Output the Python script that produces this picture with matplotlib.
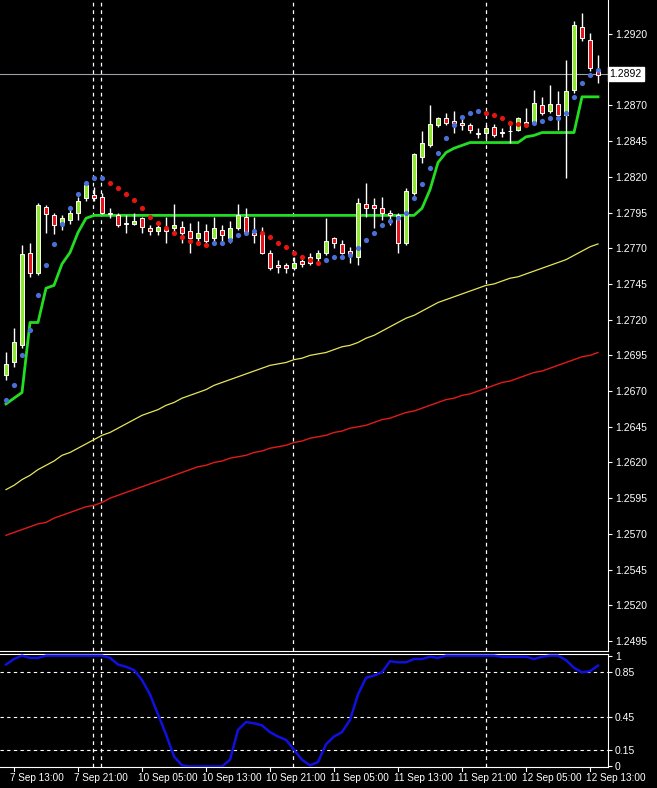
import matplotlib
matplotlib.use("Agg")
import matplotlib.pyplot as plt
import numpy as np
from matplotlib.lines import Line2D

plt.rcParams['font.family'] = ['Liberation Sans', 'DejaVu Sans']

opens = [1.2681,1.2690,1.2702,1.2767,1.2753,1.2799,1.2793,1.2788,1.2790,1.2795,
         1.2805,1.2807,1.2806,1.2795,1.2793,1.2787,1.2787,1.2791,1.2784,1.2782,
         1.2784,1.2784,1.2785,1.2782,1.2777,1.2782,1.2777,1.2783,1.2777,1.2784,
         1.2792,1.2781,1.2780,1.2767,1.2758,1.2758,1.2756,1.2761,1.2760,1.2763,
         1.2767,1.2777,1.2773,1.2768,1.2764,1.2801,1.2800,1.2798,1.2795,1.2793,
         1.2774,1.2809,1.2834,1.2842,1.2856,1.2861,1.2859,1.2858,1.2856,1.2851,
         1.2851,1.2855,1.2851,1.2852,1.2853,1.2858,1.2858,1.2870,1.2866,1.2871,
         1.2863,1.2881,1.2925,1.2916,1.2895]
highs = [1.2697,1.2714,1.2772,1.2774,1.2802,1.2800,1.2795,1.2793,1.2799,1.2806,
         1.2816,1.2813,1.2809,1.2798,1.2795,1.2793,1.2795,1.2792,1.2786,1.2787,
         1.2792,1.2801,1.2789,1.2788,1.2789,1.2787,1.2792,1.2786,1.2789,1.2801,
         1.2798,1.2792,1.2785,1.2769,1.2762,1.2760,1.2764,1.2764,1.2767,1.2769,
         1.2791,1.2778,1.2776,1.2771,1.2805,1.2816,1.2805,1.2806,1.2797,1.2795,
         1.2812,1.2837,1.2852,1.2870,1.2862,1.2865,1.2866,1.2861,1.2858,1.2854,
         1.2856,1.2857,1.2854,1.2857,1.2862,1.2868,1.2881,1.2876,1.2884,1.2880,
         1.2902,1.2929,1.2935,1.2921,1.2905]
lows = [1.2678,1.2687,1.2700,1.2750,1.2751,1.2781,1.2780,1.2783,1.2787,1.2790,
        1.2803,1.2803,1.2794,1.2791,1.2785,1.2781,1.2786,1.2781,1.2779,1.2779,
        1.2774,1.2781,1.2774,1.2767,1.2772,1.2772,1.2774,1.2774,1.2774,1.2783,
        1.2780,1.2774,1.2766,1.2755,1.2753,1.2753,1.2755,1.2757,1.2758,1.2760,
        1.2765,1.2770,1.2766,1.2760,1.2758,1.2792,1.2784,1.2790,1.2786,1.2767,
        1.2772,1.2807,1.2830,1.2841,1.2855,1.2856,1.2851,1.2853,1.2851,1.2847,
        1.2847,1.2848,1.2848,1.2844,1.2852,1.2855,1.2857,1.2863,1.2865,1.2853,
        1.2819,1.2879,1.2915,1.2894,1.2886]
closes = [1.2689,1.2704,1.2766,1.2753,1.2800,1.2794,1.2786,1.2791,1.2795,1.2803,
          1.2814,1.2805,1.2795,1.2794,1.2786,1.2788,1.2789,1.2785,1.2782,1.2785,
          1.2782,1.2786,1.2781,1.2777,1.2781,1.2775,1.2784,1.2779,1.2784,1.2793,
          1.2781,1.2779,1.2767,1.2756,1.2757,1.2756,1.2760,1.2759,1.2764,1.2767,
          1.2775,1.2774,1.2767,1.2765,1.2802,1.2798,1.2798,1.2795,1.2793,1.2774,
          1.2810,1.2836,1.2844,1.2857,1.2861,1.2858,1.2858,1.2856,1.2853,1.2850,
          1.2854,1.2849,1.2851,1.2852,1.2861,1.2858,1.2872,1.2865,1.2871,1.2863,
          1.2880,1.2926,1.2917,1.2896,1.2891]

sar = [1.2664,1.2674,1.2695,1.2713,1.2737,1.2758,1.2773,1.2787,1.2798,1.2808,
       1.2816,1.2819,1.2819,1.2816,1.2812,1.2808,1.2804,1.2798,1.2792,1.2788,
       1.2784,1.2781,1.2778,1.2775,1.2774,1.2772,1.2774,1.2774,1.2776,1.2779,
       1.2781,1.2782,1.2781,1.2778,1.2774,1.2771,1.2767,1.2764,1.2762,1.2760,
       1.2762,1.2764,1.2764,1.2765,1.2770,1.2776,1.2781,1.2786,1.2789,1.2791,
       1.2795,1.2805,1.2815,1.2826,1.2837,1.2847,1.2856,1.2862,1.2865,1.2866,
       1.2865,1.2863,1.2861,1.2858,1.2857,1.2856,1.2858,1.2859,1.2861,1.2861,
       1.2865,1.2876,1.2886,1.2891,1.2895]
sar_up = [1]*13 + [0]*13 + [1]*6 + [0]*8 + [1]*20 + [0]*6 + [1]*9

trail = [1.2661,1.2665,1.2669,1.2718,1.2718,1.2742,1.2744,1.2759,1.2767,1.2781,
         1.2791] + [1.2793]*41 + [1.2798,1.2811,1.2830,1.2837,1.2840,1.2842] + [1.2844]*7 + \
        [1.2848,1.2849] + [1.2851]*5 + [1.2876,1.2876,1.2876]

ma_yellow = [1.2601,1.2604,1.2608,1.2611,1.2615,1.2618,1.2621,1.2625,1.2627,1.2630,
             1.2633,1.2636,1.2639,1.2641,1.2644,1.2647,1.2650,1.2653,1.2655,1.2657,
             1.2660,1.2662,1.2665,1.2667,1.2669,1.2671,1.2674,1.2676,1.2678,1.2680,
             1.2682,1.2684,1.2686,1.2688,1.2689,1.2690,1.2692,1.2693,1.2695,1.2696,
             1.2697,1.2699,1.2701,1.2702,1.2704,1.2707,1.2709,1.2712,1.2715,1.2718,
             1.2721,1.2723,1.2726,1.2729,1.2732,1.2734,1.2736,1.2738,1.2740,1.2742,
             1.2744,1.2745,1.2747,1.2749,1.2750,1.2752,1.2754,1.2756,1.2758,1.2760,
             1.2762,1.2765,1.2768,1.2771,1.2773]
ma_red = [1.2569,1.2571,1.2573,1.2575,1.2577,1.2578,1.2581,1.2583,1.2585,1.2587,
          1.2589,1.2590,1.2592,1.2595,1.2597,1.2599,1.2601,1.2603,1.2605,1.2607,
          1.2609,1.2611,1.2613,1.2615,1.2617,1.2618,1.2620,1.2621,1.2623,1.2624,
          1.2625,1.2627,1.2628,1.2630,1.2631,1.2632,1.2634,1.2635,1.2637,1.2638,
          1.2639,1.2641,1.2642,1.2644,1.2645,1.2646,1.2648,1.2650,1.2651,1.2653,
          1.2655,1.2656,1.2658,1.2660,1.2662,1.2664,1.2665,1.2667,1.2668,1.2670,
          1.2672,1.2674,1.2676,1.2677,1.2679,1.2681,1.2683,1.2684,1.2686,1.2688,
          1.2690,1.2692,1.2694,1.2695,1.2697]

osc = [0.92,0.97,1.0,0.98,0.98,1.0,1.0,1.0,1.0,1.0,
       1.0,1.0,1.0,0.98,0.92,0.90,0.87,0.78,0.65,0.47,
       0.29,0.09,0.01,0.0,0.0,0.0,0.0,0.0,0.06,0.33,
       0.40,0.39,0.37,0.31,0.27,0.24,0.15,0.06,0.01,0.04,
       0.20,0.27,0.31,0.42,0.65,0.80,0.82,0.85,0.95,0.94,
       0.94,0.97,0.97,0.99,0.98,1.0,1.0,1.0,1.0,1.0,
       1.0,1.0,0.99,0.99,0.99,0.99,0.97,0.99,1.0,1.0,
       0.96,0.89,0.85,0.86,0.91]

price_ticks = [1.2920,1.2895,1.2870,1.2845,1.2820,1.2795,1.2770,1.2745,1.2720,1.2695,
               1.2670,1.2645,1.2620,1.2595,1.2570,1.2545,1.2520,1.2495]
osc_ticks = [1, 0.85, 0.45, 0.15, 0]
osc_tick_labels = ["1", "0.85", "0.45", "0.15", "0"]
x_labels = ["7 Sep 13:00","7 Sep 21:00","10 Sep 05:00","10 Sep 13:00","10 Sep 21:00",
            "11 Sep 05:00","11 Sep 13:00","11 Sep 21:00","12 Sep 05:00","12 Sep 13:00"]
x_label_bars = [1,9,17,25,33,41,49,57,65,73]
vlines_bars = [10.9, 11.9, 35.9, 60.0]
last_price = 1.2892

W, H = 657, 788
fig = plt.figure(figsize=(W/100, H/100), dpi=100, facecolor="black")
axr = 608/W
ax = fig.add_axes([0, 1-651/H, axr, 651/H], facecolor="black")
ax2 = fig.add_axes([0, 1-767/H, axr, 113/H], facecolor="black")

n = len(closes)
x = np.arange(n)
BULL, BEAR = "#8be82a", "#e3141c"

ax.plot(x, ma_red, color="#e11b1b", lw=1.0, zorder=2)
ax.plot(x, ma_yellow, color="#e6e65a", lw=0.9, zorder=2)
ax.plot(x, trail, color="#22dd22", lw=2.0, zorder=3)

o = np.array(opens); c = np.array(closes)
ax.vlines(x, lows, highs, color="white", lw=1.0, zorder=4)
body = np.where(np.abs(c-o) < 1e-9, 0.00003, c-o)
cols = [BULL if cc >= oo else BEAR for oo, cc in zip(o, c)]
ax.bar(x, body, bottom=o, width=0.62, color=cols, edgecolor="white", linewidth=0.7, zorder=5)

s = np.array(sar); up = np.array(sar_up) == 1
ax.scatter(x[up], s[up], s=14, color="#4a6fd6", zorder=6, linewidths=0)
ax.scatter(x[~up], s[~up], s=14, color="#e5150f", zorder=6, linewidths=0)

ax.axhline(last_price, color="#9aa0a8", lw=0.8, zorder=1)
for vb in vlines_bars:
    ax.axvline(vb, color="white", lw=0.9, ls=(0, (3, 3)), zorder=1)
    ax2.axvline(vb, color="white", lw=0.9, ls=(0, (3, 3)), zorder=1)

ax.set_xlim(-0.75, 75.25)
ax.set_ylim(1.2488, 1.29438)
ax2.set_xlim(-0.75, 75.25)
ax2.set_ylim(-0.005, 1.015)

for a in (ax, ax2):
    for sp in a.spines.values():
        sp.set_color("white")
    a.spines["left"].set_visible(False)
    a.spines["top"].set_visible(a is ax2)
    a.yaxis.tick_right()
    a.tick_params(axis="y", colors="white", labelsize=7.5, length=3, pad=2)
    a.set_xticks([])

ax.set_yticks(price_ticks)
ax.set_yticklabels(["" if abs(p - 1.2895) < 1e-6 else f"{p:.4f}" for p in price_ticks])

ax2.plot(x, osc, color="#1010e0", lw=1.8, zorder=3)
for t in [0.85, 0.45, 0.15]:
    ax2.axhline(t, color="white", lw=0.8, ls=(0, (3, 3)), zorder=1)
ax2.set_yticks(osc_ticks)
ax2.set_yticklabels(osc_tick_labels)

ax.text(75.45, last_price, f"{last_price:.4f}", color="black", fontsize=7.5,
        va="center", ha="left", zorder=10, clip_on=False,
        bbox=dict(boxstyle="square,pad=0.2", fc="white", ec="white"))

for lb, b in zip(x_labels, x_label_bars):
    xf = ax2.transData.transform((b - 0.45, 0))[0] / W
    fig.text(xf, 1-778/H, lb, color="white", fontsize=7.2, ha="left", va="center")
    fig.add_artist(Line2D([ax2.transData.transform((b, 0))[0]/W]*2, [1-767/H, 1-771/H],
                          color="white", lw=0.8))

fig.savefig("out.png", dpi=100, facecolor="black")
